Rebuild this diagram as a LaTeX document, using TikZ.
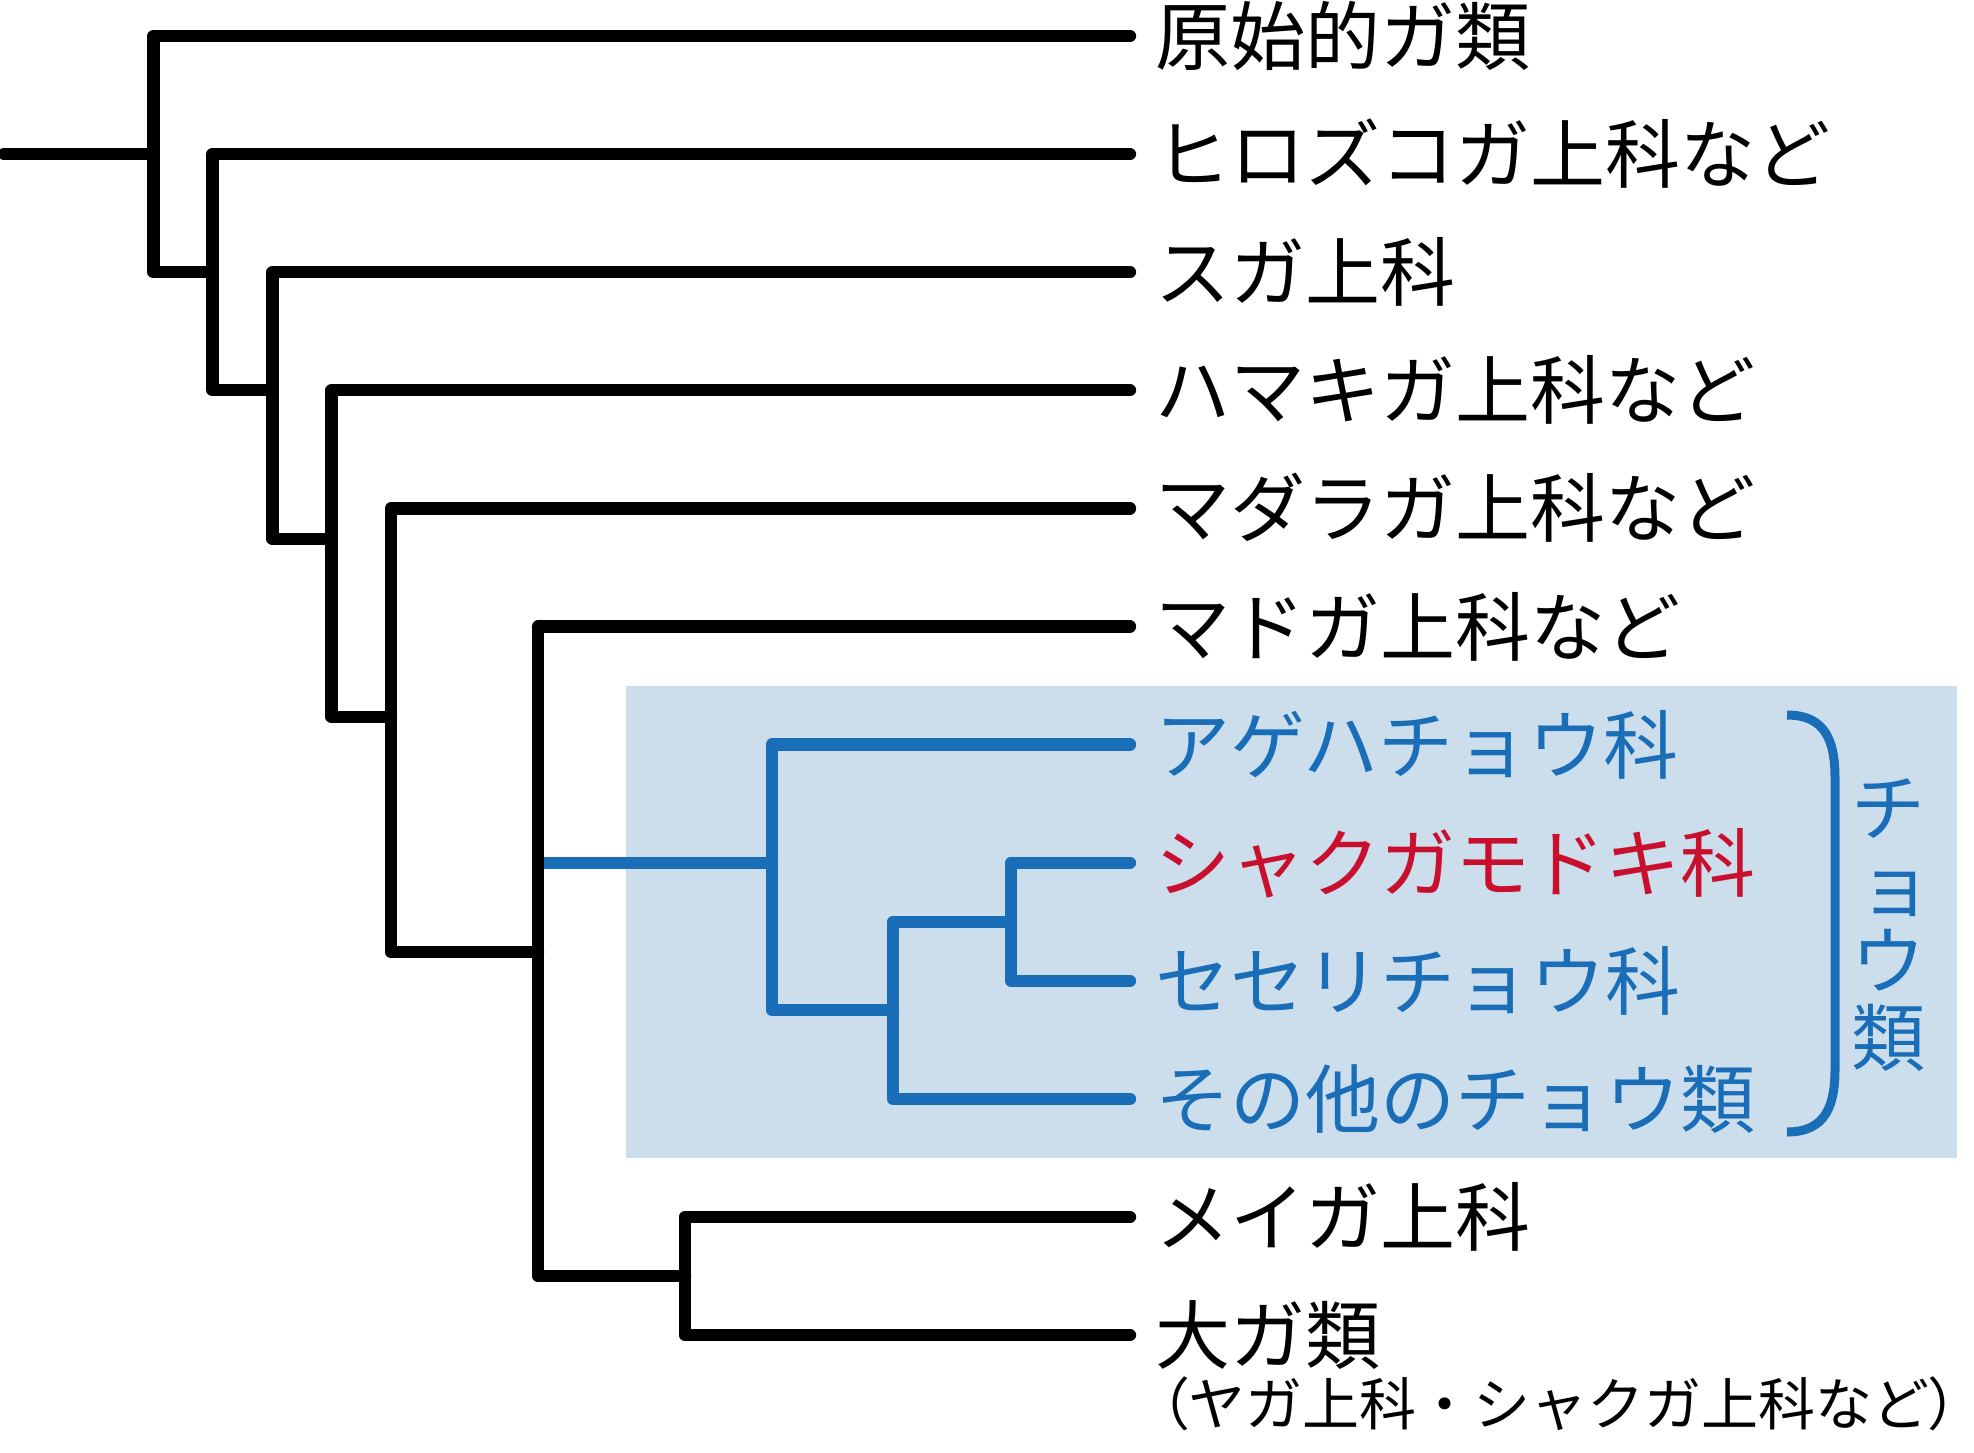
\documentclass[tikz,border=0pt]{standalone}
\usepackage{fontspec}
\setmainfont{Noto Sans CJK JP}
\newcommand{\palt}[1]{{\addfontfeature{RawFeature=+palt}#1}}
\definecolor{bblue}{HTML}{1A6DB7}
\definecolor{boxbg}{HTML}{CCDEEC}
\definecolor{bred}{HTML}{C8102E}
\begin{document}
\begin{tikzpicture}[x=1pt,y=-1pt,
  branch/.style={line width=12.3pt, line cap=round, line join=round},
  lbl/.style={anchor=west, inner sep=0pt, font=\fontsize{75}{80}\selectfont, text height=66pt, text depth=9pt},
  sublbl/.style={anchor=west, inner sep=0pt, font=\fontsize{57}{62}\selectfont, text height=50pt, text depth=7pt},
  bluetxt/.style={text=bblue},
  redtxt/.style={text=bred}]
\useasboundingbox (0,0) rectangle (1974,1452);
% background of the butterfly clade
\fill[boxbg] (626,686) rectangle (1957,1158);
% leaf end points
\foreach \i/\y in {0/36,1/154.1,2/272.2,3/390.3,4/508.4,5/626.5,6/744.6,7/862.7,8/980.8,9/1098.9,10/1217,11/1335.1}
  \coordinate (L\i) at (1130,\y);
% internal nodes
\coordinate (root) at (4,154.1);
\coordinate (n1) at (153.5,154.1);
\coordinate (n2) at (212.5,272.2);
\coordinate (n3) at (272.5,390.3);
\coordinate (n4) at (331.5,539);
\coordinate (n5) at (391,717);
\coordinate (n6) at (538,952);
\coordinate (n7) at (772,862.7);
\coordinate (n8) at (893,1010);
\coordinate (n9) at (1011,922);
\coordinate (n10) at (685,1276);
% blue clade
\draw[branch, bblue] (n6 |- n7) -- (n7);
\draw[branch, bblue] (L6) -| (n7) |- (n8);
\draw[branch, bblue] (L9) -| (n8) |- (n9);
\draw[branch, bblue] (L7) -| (n9) |- (L8);
% black tree
\draw[branch] (root) -- (n1);
\draw[branch] (L0) -| (n1) |- (n2);
\draw[branch] (L1) -| (n2) |- (n3);
\draw[branch] (L2) -| (n3) |- (n4);
\draw[branch] (L3) -| (n4) |- (n5);
\draw[branch] (L4) -| (n5) |- (n6);
\draw[branch] (L5) -| (n6) |- (n10);
\draw[branch] (L10) -| (n10) |- (L11);
% labels
\node[lbl] (t0) at (1155,36) {原始的ガ類};
\node[lbl] (t1) at (1155,154.1) {ヒロズコガ上科など};
\node[lbl] (t2) at (1155,272.2) {スガ上科};
\node[lbl] (t3) at (1155,390.3) {ハマキガ上科など};
\node[lbl] (t4) at (1155,508.4) {マダラガ上科など};
\node[lbl] (t5) at (1155,626.5) {マドガ上科など};
\node[lbl, bluetxt] (t6) at (1155,744.6) {アゲハチョウ科};
\node[lbl, redtxt] (t7) at (1155,862.7) {シャクガモドキ科};
\node[lbl, bluetxt] (t8) at (1155,980.8) {セセリチョウ科};
\node[lbl, bluetxt] (t9) at (1155,1098.9) {その他のチョウ類};
\node[lbl] (t10) at (1155,1217) {メイガ上科};
\node[lbl] (t11) at (1155,1335.1) {大ガ類};
\node[sublbl] (t12) at (1160,1404) {\palt{（}ヤガ上科・シャクガ上科など\palt{）}};
% bracket and group label
\coordinate (bt) at (1787,715);
\coordinate (bb) at (1787,1132);
\draw[bblue, line width=9pt] (bt) .. controls (1826,715) and (1835,742) .. (1835,778)
   -- (1835,1069) .. controls (1835,1105) and (1826,1132) .. (bb);
\node[inner sep=0pt, align=center, text=bblue, font=\fontsize{74}{76.5}\selectfont] (grp) at (1888,925)
  {チ\\\hspace*{14pt}ョ\\ウ\\類};
\end{tikzpicture}
\end{document}
